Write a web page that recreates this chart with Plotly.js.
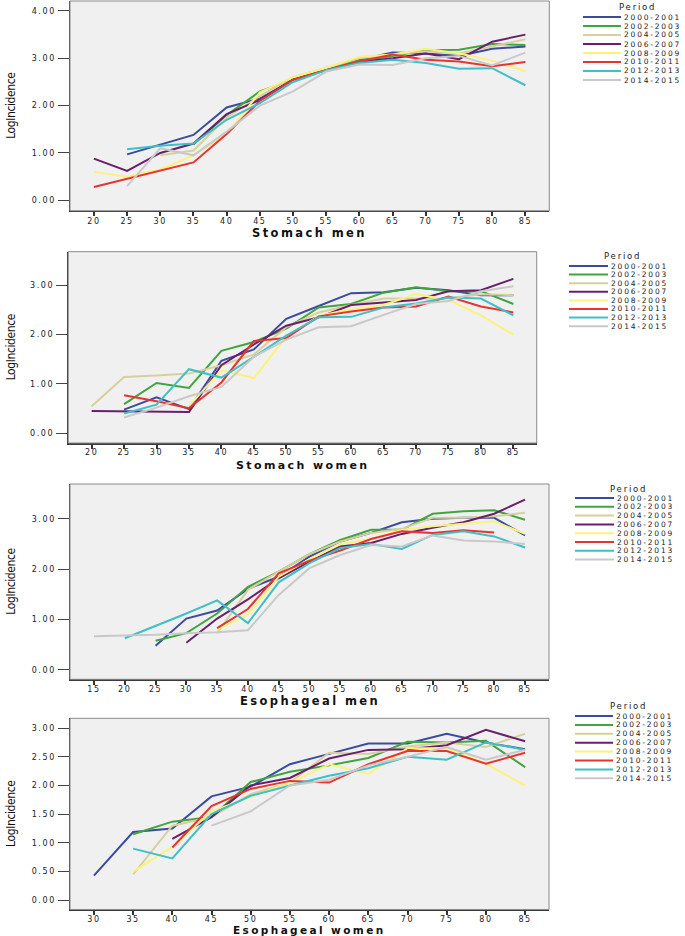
<!DOCTYPE html>
<html>
<head>
<meta charset="utf-8">
<script src="https://cdn.plot.ly/plotly-3.0.1.min.js"></script>
<style>
html,body{margin:0;padding:0;background:#fff;}
#chart{width:685px;height:936px;}
.xtick text,.x2tick text,.x3tick text,.x4tick text,
.ytick text,.y2tick text,.y3tick text,.y4tick text{letter-spacing:1.6px;}
text.annotation-text{letter-spacing:1.8px;}
text.annotation-text[data-unformatted="LogIncidence"]{letter-spacing:-0.4px;}
text.annotation-text[data-unformatted^="<b>"]{letter-spacing:2.4px;}
</style>
</head>
<body>
<div id="chart"></div>
<script>
// ---------- DATA ----------
const periods = ["2000-2001","2002-2003","2004-2005","2006-2007","2008-2009","2010-2011","2012-2013","2014-2015"];
const colors  = ["#3b4b9d","#3fa63f","#d8d09c","#6a1f6e","#fbf27c","#e8342f","#3fbfc6","#c9c9c9"];
const panelTitles = ["Stomach men","Stomach women","Esophageal men","Esophageal women"];

const agesStomachMen = [20,25,30,35,40,45,50,55,60,65,70,75,80,85];
const stomachMen = [
  [null,0.97,1.18,1.38,1.96,2.15,2.55,2.75,2.97,3.12,3.10,3.05,3.20,3.25],
  [null,null,null,1.18,1.80,2.30,2.55,2.78,2.95,3.05,3.17,3.18,3.30,3.28],
  [null,null,0.95,1.05,1.75,2.20,2.60,2.80,3.00,3.08,3.15,3.10,3.25,3.40],
  [0.88,0.62,1.00,1.20,1.82,2.12,2.55,2.75,2.92,3.00,3.10,2.98,3.35,3.50],
  [0.60,0.50,0.65,0.95,1.40,2.28,2.60,2.80,3.03,3.08,3.20,3.10,2.95,2.73],
  [0.28,0.45,0.62,0.80,1.40,2.10,2.55,2.75,2.93,3.08,2.97,2.93,2.83,2.92],
  [null,1.08,1.15,1.20,1.70,2.05,2.50,2.75,2.90,2.97,2.90,2.78,2.79,2.43],
  [null,0.30,1.10,0.95,1.45,2.00,2.30,2.72,2.87,2.86,3.00,3.05,2.85,3.12]
];

const agesStomachWomen = [20,25,30,35,40,45,50,55,60,65,70,75,80,85];
const stomachWomen = [
  [null,0.48,0.73,0.49,1.47,1.70,2.32,2.58,2.84,2.86,2.95,2.90,2.80,2.80],
  [null,0.59,1.02,0.92,1.67,1.85,2.12,2.55,2.62,2.85,2.96,2.88,2.88,2.62],
  [0.55,1.14,1.17,1.21,1.38,1.60,2.15,2.45,2.60,2.73,2.73,2.73,2.82,2.80],
  [0.45,0.44,0.43,0.43,1.38,1.80,2.18,2.35,2.60,2.65,2.70,2.88,2.90,3.13],
  [null,null,null,0.55,1.28,1.12,1.96,2.38,2.52,2.60,2.82,2.70,2.39,2.00],
  [null,0.77,0.65,0.51,1.03,1.87,1.93,2.37,2.47,2.55,2.57,2.77,2.57,2.45],
  [null,0.40,0.58,1.30,1.13,1.55,1.98,2.35,2.36,2.55,2.63,2.75,2.73,2.39],
  [null,0.32,0.52,0.75,0.94,1.55,1.90,2.15,2.17,2.40,2.62,2.68,2.88,2.98]
];

const agesEsophMen = [15,20,25,30,35,40,45,50,55,60,65,70,75,80,85];
const esophMen = [
  [null,null,0.48,1.02,1.18,1.61,1.85,2.25,2.55,2.72,2.93,3.00,3.02,3.02,2.67],
  [null,null,0.58,0.73,1.12,1.65,1.95,2.30,2.58,2.78,2.78,3.10,3.15,3.17,2.98],
  [null,null,null,null,0.73,1.59,1.95,2.30,2.55,2.72,2.80,3.02,3.02,3.05,3.12],
  [null,null,null,0.54,1.02,1.40,1.82,2.15,2.45,2.52,2.70,2.82,2.93,3.10,3.38],
  [null,null,null,null,0.80,1.10,1.85,2.20,2.50,2.60,2.78,2.85,2.90,2.95,2.70],
  [null,null,null,null,0.83,1.21,1.92,2.17,2.37,2.60,2.75,2.72,2.77,2.73,null],
  [null,0.63,0.87,1.12,1.38,0.93,1.74,2.12,2.42,2.50,2.40,2.68,2.75,2.65,2.43],
  [0.67,0.68,0.70,0.73,0.75,0.79,1.49,2.02,2.28,2.48,2.45,2.67,2.57,2.55,2.50]
];

const agesEsophWomen = [30,35,40,45,50,55,60,65,70,75,80,85];
const esophWomen = [
  [0.43,1.19,1.25,1.81,1.98,2.37,2.55,2.73,2.73,2.90,2.75,2.63],
  [null,1.15,1.37,1.45,2.06,2.24,2.35,2.48,2.76,2.75,2.78,2.32],
  [null,0.45,1.30,1.45,1.85,2.05,2.57,2.55,2.68,2.75,2.67,2.90],
  [null,null,1.07,1.45,2.00,2.13,2.47,2.62,2.63,2.70,2.97,2.77],
  [null,0.50,0.93,1.55,1.80,2.05,2.37,2.20,2.65,2.65,2.38,2.00],
  [null,null,0.92,1.64,1.94,2.08,2.05,2.37,2.60,2.60,2.38,2.57],
  [null,0.90,0.73,1.50,1.82,2.00,2.17,2.30,2.50,2.45,2.75,2.62],
  [null,null,null,1.30,1.55,2.00,2.10,2.35,2.50,2.67,2.45,2.62]
];

// ---------- LAYOUT CONFIG ----------
const W = 685, H = 936;
const panels = [
  {ages: agesStomachMen, data: stomachMen, px:[70,549.3], py:[1,210.7], yr:[-0.22,4.21], dtick:1, xpad:0.72,
   titleY:232.5, titleSize:11.5, standoff:-2, leg:{pY:7.5, pX:637, y0:17, step:9.0, lx0:583, lx1:621, tx:622}},
  {ages: agesStomachWomen, data: stomachWomen, px:[68.3,536.7], py:[251.7,443], yr:[-0.196,3.68], dtick:1, xpad:0.72,
   titleY:465, titleSize:11, standoff:-3, leg:{pY:256, pX:622, y0:266, step:8.6, lx0:569, lx1:608, tx:609}},
  {ages: agesEsophMen, data: esophMen, px:[70,549], py:[484,679.3], yr:[-0.185,3.69], dtick:1, xpad:0.78,
   titleY:700.5, titleSize:11.5, standoff:-2, leg:{pY:489, pX:628, y0:498, step:8.8, lx0:575, lx1:614, tx:615}},
  {ages: agesEsophWomen, data: esophWomen, px:[70,549], py:[718.3,909.5], yr:[-0.16,3.17], dtick:0.5, xpad:0.61,
   titleY:929.5, titleSize:10.5, standoff:-3, leg:{pY:706, pX:628, y0:716, step:8.9, lx0:575, lx1:613, tx:614}}
];

const traces = [];
const layout = {
  width: W, height: H,
  margin: {l:0, r:0, t:0, b:0},
  paper_bgcolor: "#ffffff",
  plot_bgcolor: "#f0f0f0",
  showlegend: false,
  shapes: [], annotations: []
};

const fx = v => v / W;
const fy = v => 1 - v / H;
const tickFont = {family: "DejaVu Sans, sans-serif", size: 8, color: "#222"};

panels.forEach((p, i) => {
  const n = i === 0 ? "" : String(i + 1);
  const xa = "x" + n, ya = "y" + n;
  const step = p.ages[1] - p.ages[0];
  p.data.forEach((vals, k) => {
    traces.push({
      type: "scatter", mode: "lines",
      x: p.ages, y: vals,
      xaxis: xa, yaxis: ya,
      name: periods[k],
      line: {color: colors[k], width: 2},
      connectgaps: false,
      hoverinfo: "x+y+name"
    });
  });
  layout["xaxis" + n] = {
    domain: [fx(p.px[0]), fx(p.px[1])],
    anchor: ya,
    range: [p.ages[0] - p.xpad * step, p.ages[p.ages.length - 1] + p.xpad * step],
    tickvals: p.ages,
    ticktext: p.ages.map(a => String(a)),
    ticks: "outside", ticklen: 4, tickwidth: 2, tickcolor: "#333",
    ticklabelstandoff: p.standoff,
    showline: true, linecolor: "#3a3a3a", linewidth: 1.5,
    showgrid: false, zeroline: false,
    tickfont: tickFont,
    fixedrange: true
  };
  const yt = [];
  for (let v = 0; v <= p.yr[1] + 1e-9; v += p.dtick) yt.push(Math.round(v * 100) / 100);
  layout["yaxis" + n] = {
    domain: [fy(p.py[1]), fy(p.py[0])],
    anchor: xa,
    range: p.yr,
    tickvals: yt,
    tickformat: ".2f",
    ticks: "outside", ticklen: 11, tickwidth: 1, tickcolor: "#444",
    showline: true, linecolor: "#3a3a3a", linewidth: 1.5,
    showgrid: false, zeroline: false,
    tickfont: tickFont,
    fixedrange: true
  };
  layout.shapes.push({
    type: "rect", xref: xa + " domain", yref: ya + " domain",
    x0: 0, x1: 1, y0: 0, y1: 1,
    line: {color: "#8a8a8a", width: 1}, layer: "above"
  });
  layout.annotations.push({
    xref: "paper", yref: "paper",
    x: fx((p.px[0] + p.px[1]) / 2), y: fy(p.titleY),
    text: "<b>" + panelTitles[i] + "</b>",
    showarrow: false, xanchor: "center", yanchor: "middle",
    font: {family: "DejaVu Sans, sans-serif", size: p.titleSize, color: "#111"}
  });
  layout.annotations.push({
    xref: "paper", yref: "paper",
    x: fx(11), y: fy((p.py[0] + p.py[1]) / 2),
    text: "LogIncidence", textangle: -90,
    showarrow: false, xanchor: "center", yanchor: "middle",
    font: {family: "Liberation Sans Narrow, DejaVu Sans Condensed, Arial Narrow, sans-serif", size: 12, color: "#111"}
  });
  const L = p.leg;
  layout.annotations.push({
    xref: "paper", yref: "paper", x: fx(L.pX), y: fy(L.pY),
    text: "Period", showarrow: false, xanchor: "center", yanchor: "middle",
    font: {family: "DejaVu Sans, sans-serif", size: 8.5, color: "#222"}
  });
  periods.forEach((name, k) => {
    const yy = L.y0 + L.step * k;
    layout.shapes.push({
      type: "line", xref: "paper", yref: "paper",
      x0: fx(L.lx0), x1: fx(L.lx1), y0: fy(yy), y1: fy(yy),
      line: {color: colors[k], width: 2}
    });
    layout.annotations.push({
      xref: "paper", yref: "paper", x: fx(L.tx), y: fy(yy),
      text: name, showarrow: false, xanchor: "left", yanchor: "middle",
      font: {family: "DejaVu Sans, sans-serif", size: 7.5, color: "#222"}
    });
  });
});

Plotly.newPlot("chart", traces, layout, {displayModeBar: false, staticPlot: true});
</script>
</body>
</html>
